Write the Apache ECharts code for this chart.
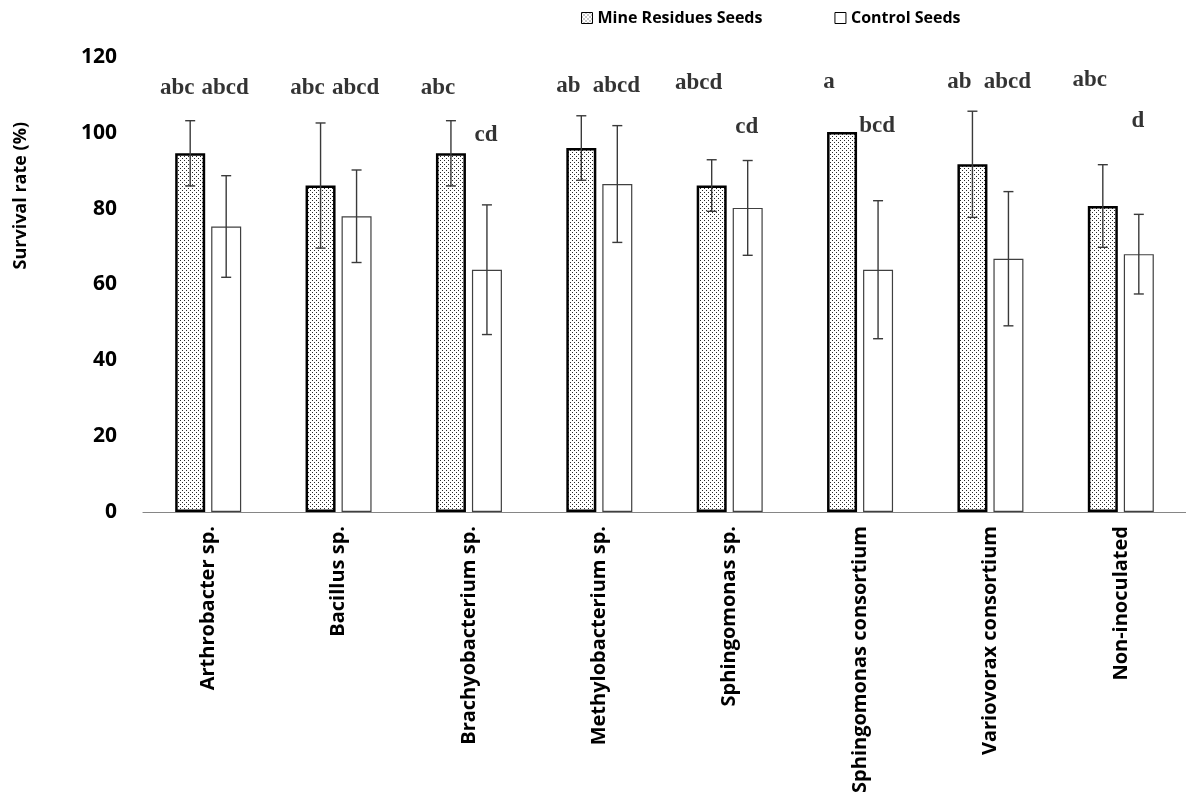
<!DOCTYPE html>
<html>
<head>
<meta charset="utf-8">
<script src="https://cdn.jsdelivr.net/npm/echarts@6/dist/echarts.min.js"></script>
<style>
html,body{margin:0;padding:0;background:#fff;}
#chart{width:1186px;height:798px;}
</style>
</head>
<body>
<div id="chart"></div>
<script>
const categories = ['Arthrobacter sp.', 'Bacillus sp.', 'Brachyobacterium sp.', 'Methylobacterium sp.', 'Sphingomonas sp.', 'Sphingomonas consortium', 'Variovorax consortium', 'Non-inoculated'];
const mineMean = [94.6, 86.1, 94.6, 96.0, 86.1, 100.2, 91.7, 80.7];
const mineErr = [8.6, 16.5, 8.6, 8.5, 6.8, 0, 14.0, 10.9];
const ctrlMean = [75.3, 78.0, 63.9, 86.5, 80.2, 63.9, 66.8, 68.0];
const ctrlErr = [13.4, 12.2, 17.1, 15.4, 12.5, 18.2, 17.7, 10.5];
const mineLetters = ['abc', 'abc', 'abc', 'ab', 'abcd', 'a', 'ab', 'abc'];
const ctrlLetters = ['abcd', 'abcd', 'cd', 'abcd', 'cd', 'bcd', 'abcd', 'd'];
const mineLetterY = [111.9, 111.9, 111.9, 112.4, 113.2, 113.5, 113.5, 113.8];
const ctrlLetterY = [111.9, 111.9, 99.3, 112.4, 101.4, 101.7, 113.5, 103.2];
const yTicks = { min: 0, max: 120, interval: 20 };

// dotted pattern
const pat = document.createElement('canvas');
pat.width = 4; pat.height = 4;
const pc = pat.getContext('2d');
pc.fillStyle = '#ffffff'; pc.fillRect(0, 0, 4, 4);
pc.fillStyle = '#2a2a2a';
pc.fillRect(0, 0, 1, 1);
pc.fillRect(2, 2, 1, 1);
const dotted = { image: pat, repeat: 'repeat' };

const BAR_OFF = 18;
const MINE_LABEL_OFF = -31;
const CTRL_LABEL_OFF = 17;
const sansFont = '"Open Sans", "DejaVu Sans", sans-serif';
const serifFont = '"Liberation Serif", "DejaVu Serif", serif';

function errRender(means, errs, dir) {
  return function (params, api) {
    const i = api.value(0);
    const m = means[i], e = errs[i];
    if (!e) return null;
    const top = api.coord([i, m + e]);
    const bot = api.coord([i, m - e]);
    const x = top[0] + dir * BAR_OFF;
    const cap = 5;
    const st = { stroke: '#3a3a3a', lineWidth: 1.4 };
    return {
      type: 'group',
      children: [
        { type: 'line', shape: { x1: x, y1: top[1], x2: x, y2: bot[1] }, style: st },
        { type: 'line', shape: { x1: x - cap, y1: top[1], x2: x + cap, y2: top[1] }, style: st },
        { type: 'line', shape: { x1: x - cap, y1: bot[1], x2: x + cap, y2: bot[1] }, style: st }
      ]
    };
  };
}

function letterSeries(letters, ys, off) {
  return {
    type: 'scatter',
    symbolSize: 0,
    silent: true,
    data: ys.map((y, i) => [i, y]),
    label: {
      show: true,
      position: 'inside',
      offset: [off, 0],
      formatter: p => letters[p.dataIndex],
      fontFamily: serifFont,
      fontWeight: 'bold',
      fontSize: 23,
      color: '#000'
    },
    z: 5
  };
}

const chart = echarts.init(document.getElementById('chart'), null, { renderer: 'canvas' });
chart.setOption({
  animation: false,
  backgroundColor: '#fff',
  grid: { left: 143, top: 57, width: 1048, height: 455, containLabel: false },
  legend: {
    left: 576, top: 5,
    itemWidth: 11, itemHeight: 11, itemGap: 72,
    textStyle: { fontFamily: sansFont, fontWeight: 'bold', fontSize: 16, color: '#000' },
    data: [
      { name: 'Mine Residues Seeds', icon: 'rect', itemStyle: { borderWidth: 1, borderColor: '#000' } },
      { name: 'Control Seeds', icon: 'rect', itemStyle: { borderWidth: 1, borderColor: '#000' } }
    ]
  },
  graphic: [{
    type: 'text',
    left: 12, top: 122,
    rotation: Math.PI / 2,
    style: { text: 'Survival rate (%)', font: 'bold 18px ' + sansFont, fill: '#000' }
  }],
  xAxis: {
    type: 'category',
    data: categories,
    axisLine: { show: true, lineStyle: { color: '#868686', width: 1.2 } },
    axisTick: { show: false },
    axisLabel: { rotate: 90, interval: 0, margin: 14, fontFamily: sansFont, fontWeight: 'bold', fontSize: 20, color: '#000' },
    splitLine: { show: false }
  },
  yAxis: {
    type: 'value',
    min: yTicks.min, max: yTicks.max, interval: yTicks.interval,
    axisLine: { show: false },
    axisTick: { show: false },
    splitLine: { show: false },
    axisLabel: { margin: 26, fontFamily: sansFont, fontWeight: 'bold', fontSize: 21, color: '#000' }
  },
  series: [
    {
      name: 'Mine Residues Seeds',
      type: 'bar',
      data: mineMean,
      barWidth: 30,
      barGap: '20%',
      itemStyle: { color: dotted, borderColor: '#000', borderWidth: 2.5 }
    },
    {
      name: 'Control Seeds',
      type: 'bar',
      data: ctrlMean,
      barWidth: 30,
      itemStyle: { color: '#fff', borderColor: '#404040', borderWidth: 1.2 }
    },
    {
      type: 'custom', silent: true, z: 4,
      renderItem: errRender(mineMean, mineErr, -1),
      data: mineMean.map((v, i) => [i, v])
    },
    {
      type: 'custom', silent: true, z: 4,
      renderItem: errRender(ctrlMean, ctrlErr, 1),
      data: ctrlMean.map((v, i) => [i, v])
    },
    letterSeries(mineLetters, mineLetterY, MINE_LABEL_OFF),
    letterSeries(ctrlLetters, ctrlLetterY, CTRL_LABEL_OFF)
  ]
});
</script>
</body>
</html>
